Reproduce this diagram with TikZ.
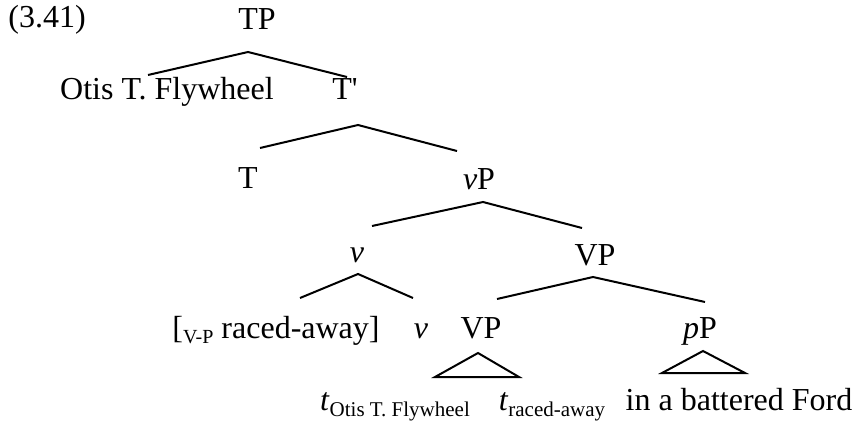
\documentclass[tikz,border=0pt]{standalone}
\usepackage{fontspec}
\setmainfont{Liberation Serif}
\usetikzlibrary{calc}

\newcommand{\trace}[1]{\textit{t}\raisebox{-0.45ex}{\fontsize{10.5pt}{11pt}\selectfont #1}}
\newcommand{\lowcap}[1]{\raisebox{-0.35ex}{\fontsize{10pt}{10pt}\selectfont #1}}

\begin{document}
\begin{tikzpicture}[x=0.5pt, y=-0.5pt, font=\fontsize{16pt}{19pt}\selectfont,
    every node/.style={anchor=base, inner sep=0pt},
    branch/.style={line width=1pt},
    roof/.style={line width=1pt, line join=miter}]
    \useasboundingbox (0,0) rectangle (854,422);

    \node[anchor=base west] (ex) at (8,28) {(3.41)};

    \node (tp) at (257,30) {TP};
    \node (spec) at (167,100) {Otis T. Flywheel};
    \node (tbar) at (345,100) {T\textquotesingle};
    \node (t) at (248,188) {T};
    \node (vp) at (479,190) {\textit{v}P};
    \node (vhead) at (357,262) {\textit{v}};
    \node (VP) at (595,265) {VP};
    \node (moved) at (276,338) {[\lowcap{V-P} raced-away]};
    \node (vlow) at (421,338) {\textit{v}};
    \node (VPlow) at (481,338) {VP};
    \node (pp) at (700,338) {\textit{p}P};
    \node (trA) at (395,410) {\trace{Otis T. Flywheel}};
    \node (trB) at (552,410) {\trace{raced-away}};
    \node (ford) at (739,410) {in a battered Ford};

    \draw[branch] ($(spec.base)+(-19,-25)$) -- ($(tp.base)+(-9,22)$) -- ($(tbar.base)+(2,-23)$);
    \draw[branch] ($(t.base)+(12,-40)$) -- ($(tbar.base)+(13,25)$) -- ($(vp.base)+(-22,-39)$);
    \draw[branch] ($(vhead.base)+(15,-36)$) -- ($(vp.base)+(4,12)$) -- ($(VP.base)+(-13,-37)$);
    \draw[branch] ($(moved.base)+(24,-40)$) -- ($(vhead.base)+(1,12)$) -- ($(vlow.base)+(-8,-40)$);
    \draw[branch] ($(VPlow.base)+(16,-39)$) -- ($(VP.base)+(-2,12)$) -- ($(pp.base)+(5,-36)$);

    \draw[roof] ($(VPlow.base)+(-3,15)$) -- +(-43,24) -- +(41,24) -- cycle;
    \draw[roof] ($(pp.base)+(3,13)$) -- +(-41,22) -- +(42,22) -- cycle;
\end{tikzpicture}
\end{document}
